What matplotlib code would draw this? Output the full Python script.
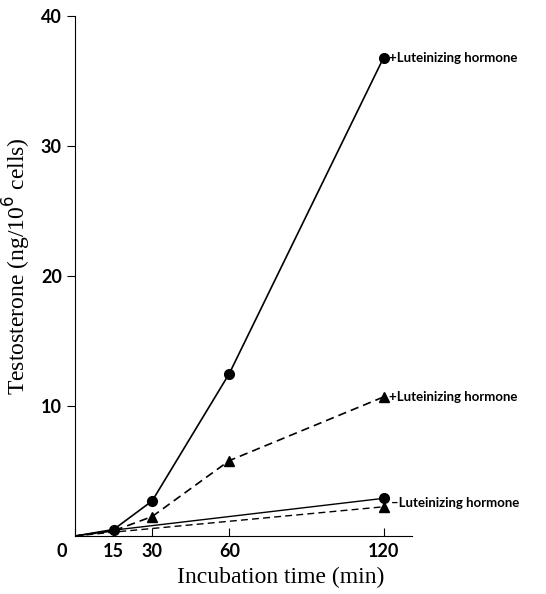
import numpy as np
import matplotlib.pyplot as plt

# Tiempos de incubación (min)
t_lh = [0, 15, 30, 60, 120]
t_ctrl = [0, 15, 120]

# Testosterona (ng/10^6 células)
lh_circle = [0, 0.5, 2.7, 12.5, 36.8]
lh_triangle = [0, 0.4, 1.5, 5.8, 10.7]
ctrl_circle = [0, 0.45, 2.9]
ctrl_triangle = [0, 0.3, 2.25]

xticks = [0, 15, 30, 60, 120]
yticks = [10, 20, 30, 40]
label_plus = '+Luteinizing hormone'
label_minus = '\u2013Luteinizing hormone'

fig = plt.figure(figsize=(5.46, 5.94), dpi=100)
ax = fig.add_axes([0.1374, 0.0976, 0.617, 0.8754])

ax.plot(t_lh, lh_circle, 'k-', lw=1.2, marker='o', ms=7, markevery=[1, 2, 3, 4])
ax.plot(t_lh, lh_triangle, 'k--', lw=1.2, dashes=(5, 3), marker='^', ms=7, markevery=[2, 3, 4])
ax.plot(t_ctrl, ctrl_circle, 'k-', lw=1.0, marker='o', ms=7, markevery=[2])
ax.plot(t_ctrl, ctrl_triangle, 'k--', lw=1.0, dashes=(5, 3), marker='^', ms=7, markevery=[2])

ax.text(122, lh_circle[-1], label_plus, fontsize=9.5, fontweight='bold', family='Lato', va='center')
ax.text(122, lh_triangle[-1], label_plus, fontsize=9.5, fontweight='bold', family='Lato', va='center')
ax.text(123, (ctrl_circle[-1] + ctrl_triangle[-1]) / 2, label_minus, fontsize=9.5,
        fontweight='bold', family='Lato', va='center')

ax.set_xlim(0, 131)
ax.set_ylim(0, 40)
ax.set_xticks(xticks)
ax.set_yticks(yticks)
xlabels = [str(v) for v in xticks]
xlabels[0] = '0      '  # el 0 va un poco a la izquierda del eje
ax.set_xticklabels(xlabels, fontsize=13, fontweight='bold', family='Lato')
ax.set_yticklabels([str(v) for v in yticks], fontsize=13, fontweight='bold', family='Lato')
ax.tick_params(axis='x', direction='in', length=6, pad=5)
ax.tick_params(axis='y', direction='out', length=6)
ax.spines['top'].set_visible(False)
ax.spines['right'].set_visible(False)

ax.set_xlabel('Incubation time (min)', fontsize=17, family='Liberation Serif')
ax.set_ylabel('Testosterone (ng/10$^6$ cells)', fontsize=17, family='Liberation Serif')
ax.xaxis.set_label_coords(0.61, -0.06)
ax.yaxis.set_label_coords(-0.125, 0.52)

plt.savefig('out.png', dpi=100)
